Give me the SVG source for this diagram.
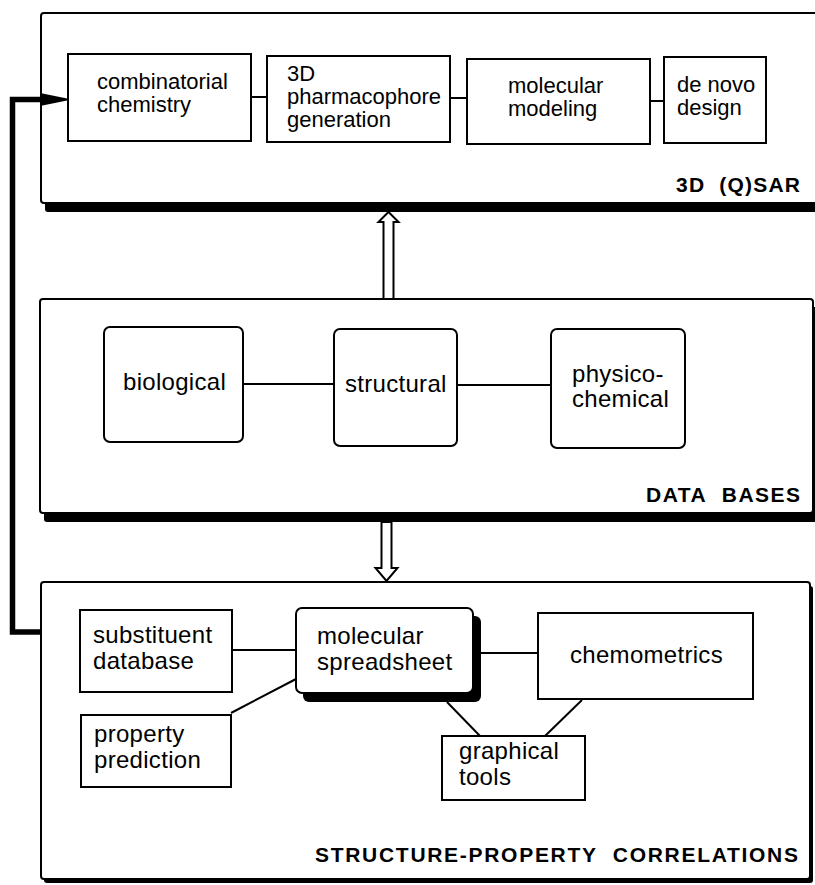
<svg xmlns="http://www.w3.org/2000/svg" width="815" height="885" viewBox="0 0 815 885">
  <style>
    .panel { fill: #fff; stroke: #000; stroke-width: 2; }
    .shadow { fill: #000; stroke: none; }
    .box { fill: #fff; stroke: #000; stroke-width: 2; }
    .link { stroke: #000; stroke-width: 2; fill: none; }
    .hollow { fill: #fff; stroke: #000; stroke-width: 2; stroke-linejoin: miter; }
    .t22 { font-family: "Liberation Sans", Arial, Helvetica, sans-serif; font-size: 22px; fill: #000; }
    .t25 { font-family: "Liberation Sans", Arial, Helvetica, sans-serif; font-size: 24px; letter-spacing: 0.3px; fill: #000; }
    .title { font-family: "Liberation Sans", Arial, Helvetica, sans-serif; font-size: 21px; font-weight: bold; fill: #000; }
  </style>
  <rect width="815" height="885" fill="#fff"/>

  <!-- panels -->
  <g id="panel-3dqsar">
    <rect class="shadow" x="45" y="21" width="800" height="191" rx="3"/>
    <rect class="panel" x="41" y="13" width="800" height="190" rx="3"/>
    <text class="title" x="676" y="192" textLength="124" lengthAdjust="spacing">3D&#160;&#160;(Q)SAR</text>
  </g>
  <g id="panel-databases">
    <rect class="shadow" x="44" y="307" width="775" height="215" rx="3"/>
    <rect class="panel" x="40" y="299" width="773" height="214" rx="3"/>
    <text class="title" x="646" y="502" textLength="154" lengthAdjust="spacing">DATA&#160;&#160;BASES</text>
  </g>
  <g id="panel-correlations">
    <rect class="shadow" x="44" y="586" width="769" height="297" rx="3"/>
    <rect class="panel" x="41" y="582" width="769" height="297" rx="3"/>
    <text class="title" x="315" y="862" textLength="483" lengthAdjust="spacing">STRUCTURE-PROPERTY&#160;&#160;CORRELATIONS</text>
  </g>

  <!-- connectors -->
  <g id="connectors">
    <line class="link" x1="251" y1="97" x2="267" y2="97"/>
    <line class="link" x1="450" y1="98" x2="467" y2="98"/>
    <line class="link" x1="650" y1="101" x2="664" y2="101"/>
    <line class="link" x1="243" y1="384" x2="334" y2="384"/>
    <line class="link" x1="457" y1="385" x2="551" y2="385"/>
    <line class="link" x1="232" y1="650" x2="296" y2="650"/>
    <line class="link" x1="231" y1="713" x2="296" y2="679"/>
    <line class="link" x1="481" y1="653" x2="538" y2="653"/>
    <line class="link" x1="447" y1="702" x2="480" y2="736"/>
    <line class="link" x1="582" y1="700" x2="545" y2="736"/>
    <!-- hollow arrows between panels -->
    <polygon class="hollow" points="383.5,299 383.5,222 378.5,222 388.5,212 398.5,222 393.5,222 393.5,299"/>
    <polygon class="hollow" points="381.5,522 381.5,568 375.5,568 386.5,581 397.5,568 391.5,568 391.5,522"/>
    <!-- feedback path -->
    <polyline fill="none" stroke="#000" stroke-width="5.5" stroke-linejoin="miter" points="41,632 12.5,632 12.5,99.5 46,99.5"/>
    <polygon fill="#000" points="40,93 72,99.5 40,106"/>
  </g>

  <!-- 3D (Q)SAR nodes -->
  <g id="combinatorial-chemistry">
    <rect class="box" x="68" y="54" width="183" height="87"/>
    <text class="t22" x="97" y="89">combinatorial</text>
    <text class="t22" x="97" y="112">chemistry</text>
  </g>
  <g id="pharmacophore-generation">
    <rect class="box" x="267" y="56" width="183" height="86"/>
    <text class="t22" x="287" y="81">3D</text>
    <text class="t22" x="287" y="104">pharmacophore</text>
    <text class="t22" x="287" y="127">generation</text>
  </g>
  <g id="molecular-modeling">
    <rect class="box" x="467" y="59" width="183" height="85"/>
    <text class="t22" x="508" y="93">molecular</text>
    <text class="t22" x="508" y="116">modeling</text>
  </g>
  <g id="de-novo-design">
    <rect class="box" x="664" y="57" width="102" height="86"/>
    <text class="t22" x="677" y="92">de novo</text>
    <text class="t22" x="677" y="115">design</text>
  </g>

  <!-- data base nodes -->
  <g id="biological">
    <rect class="box" x="104" y="327" width="139" height="115" rx="6"/>
    <text class="t25" x="123" y="390">biological</text>
  </g>
  <g id="structural">
    <rect class="box" x="334" y="329" width="123" height="117" rx="6"/>
    <text class="t25" x="345" y="392">structural</text>
  </g>
  <g id="physico-chemical">
    <rect class="box" x="551" y="329" width="134" height="119" rx="6"/>
    <text class="t25" x="572" y="382">physico-</text>
    <text class="t25" x="572" y="407">chemical</text>
  </g>

  <!-- structure-property correlation nodes -->
  <g id="substituent-database">
    <rect class="box" x="80" y="610" width="152" height="82"/>
    <text class="t25" x="93" y="643">substituent</text>
    <text class="t25" x="93" y="669">database</text>
  </g>
  <g id="property-prediction">
    <rect class="box" x="81" y="715" width="150" height="72"/>
    <text class="t25" x="94" y="742">property</text>
    <text class="t25" x="94" y="768">prediction</text>
  </g>
  <g id="molecular-spreadsheet">
    <rect class="shadow" x="303" y="616" width="178" height="86" rx="6"/>
    <rect class="box" x="296" y="608" width="177" height="85" rx="6"/>
    <text class="t25" x="317" y="644">molecular</text>
    <text class="t25" x="317" y="670">spreadsheet</text>
  </g>
  <g id="chemometrics">
    <rect class="box" x="538" y="613" width="215" height="86"/>
    <text class="t25" x="570" y="663">chemometrics</text>
  </g>
  <g id="graphical-tools">
    <rect class="box" x="442" y="736" width="143" height="64"/>
    <text class="t25" x="459" y="759">graphical</text>
    <text class="t25" x="459" y="785">tools</text>
  </g>
</svg>
